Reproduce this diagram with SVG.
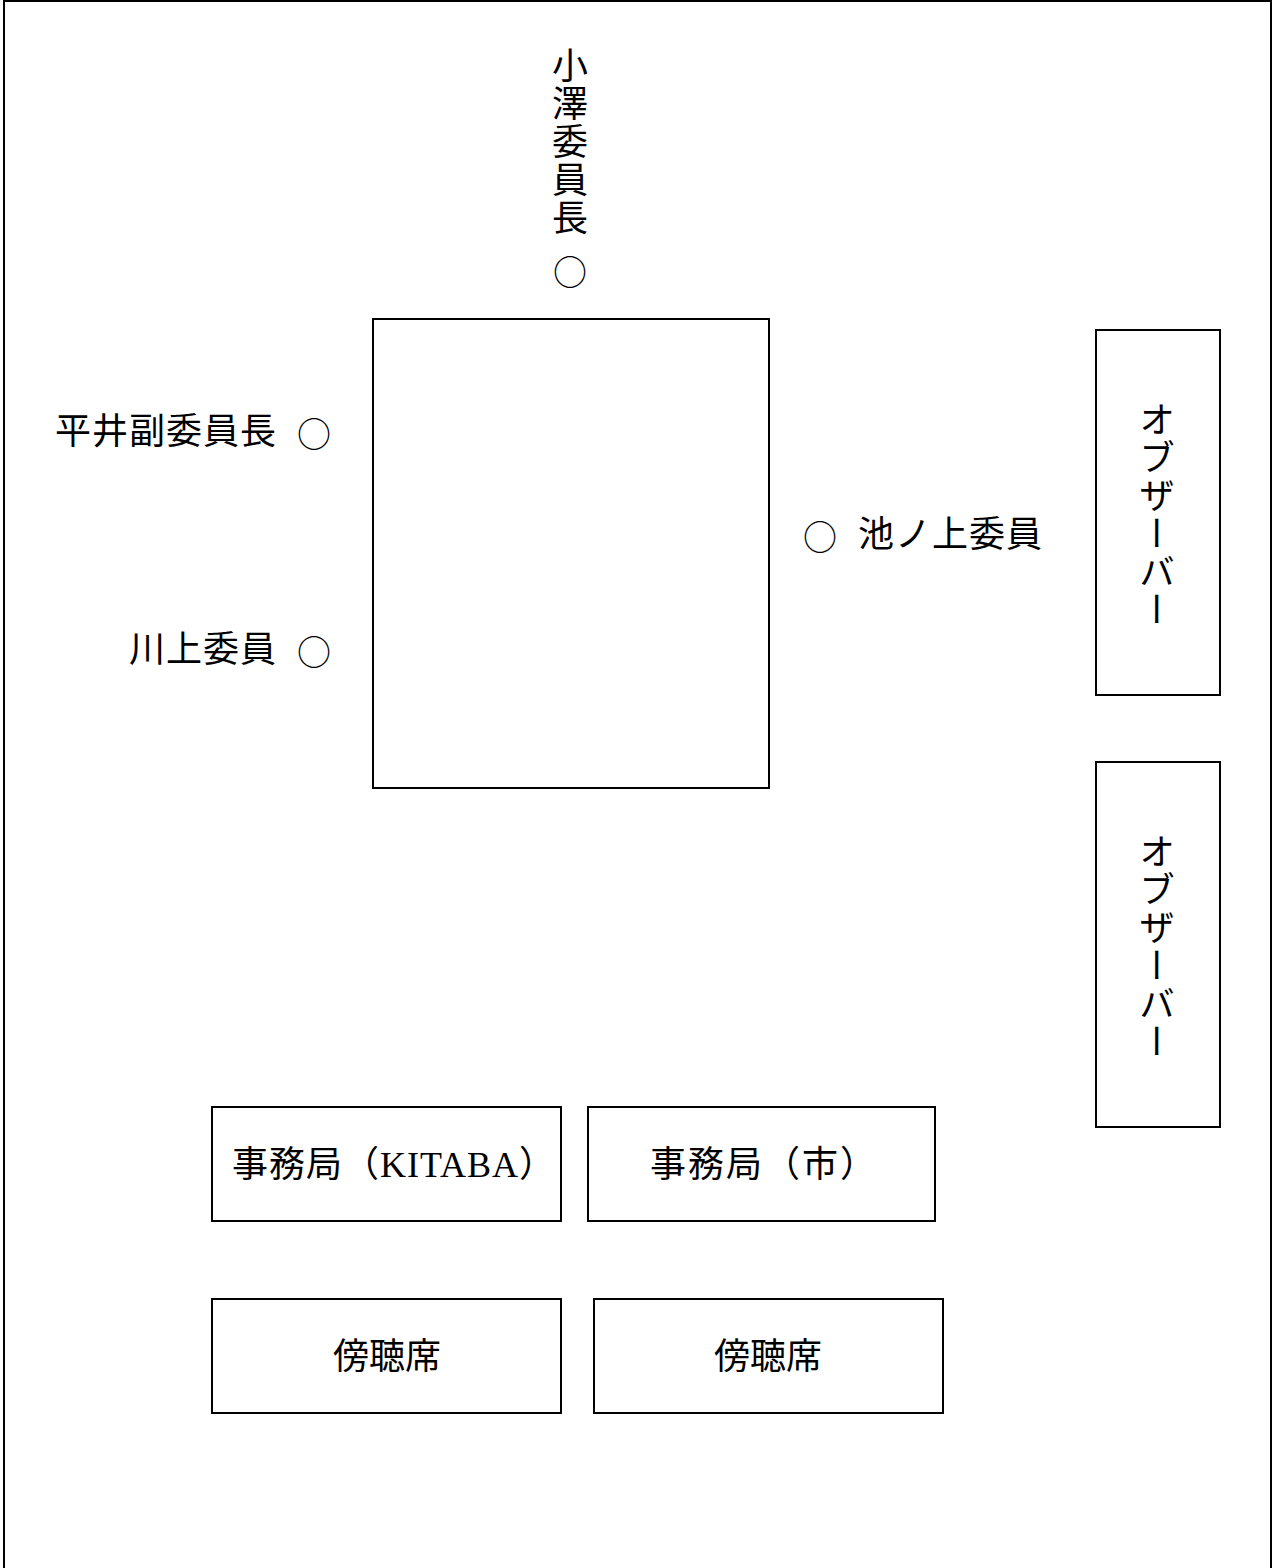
<svg xmlns="http://www.w3.org/2000/svg" width="1272" height="1568" viewBox="0 0 1272 1568">
<style>
.box{fill:#fff;stroke:#000;stroke-width:2}
.t{font-family:"Liberation Serif","Noto Sans CJK JP",serif;font-size:36px;fill:#000;dominant-baseline:central}
.v{font-family:"Noto Sans CJK JP","Liberation Serif",serif;font-size:36px;fill:#000;writing-mode:vertical-rl;text-anchor:middle;letter-spacing:2px}
.c{font-family:"Noto Sans CJK JP",sans-serif;font-size:34px;fill:#000;dominant-baseline:central;text-anchor:middle}
</style>
<rect width="1272" height="1568" fill="#fff"/>
<g id="room">
<path d="M4,1572 V1 H1271 V1572" fill="none" stroke="#000" stroke-width="2"/>
</g>
<g id="table">
<rect class="box" x="373" y="319" width="396" height="469"/>
</g>
<g id="chair-ozawa">
<text class="v" x="570" y="142">小澤委員長</text>
<text class="c" x="570" y="270">○</text>
</g>
<g id="vice-hirai">
<text class="t" x="277" y="432" text-anchor="end" letter-spacing="1">平井副委員長</text>
<text class="c" x="314" y="432">○</text>
</g>
<g id="member-kawakami">
<text class="t" x="277" y="650" text-anchor="end" letter-spacing="1">川上委員</text>
<text class="c" x="314" y="650">○</text>
</g>
<g id="member-ikenoue">
<text class="c" x="820" y="535">○</text>
<text class="t" x="858" y="535" letter-spacing="1">池ノ上委員</text>
</g>
<g id="observer-1">
<rect class="box" x="1096" y="330" width="124" height="365"/>
<text class="v" x="1157" y="515">オブザーバー</text>
</g>
<g id="observer-2">
<rect class="box" x="1096" y="762" width="124" height="365"/>
<text class="v" x="1157" y="947">オブザーバー</text>
</g>
<g id="secretariat-kitaba">
<rect class="box" x="212" y="1107" width="349" height="114"/>
<text class="t" x="394" y="1165" text-anchor="middle" letter-spacing="1">事務局（KITABA）</text>
</g>
<g id="secretariat-city">
<rect class="box" x="588" y="1107" width="347" height="114"/>
<text class="t" x="764" y="1165" text-anchor="middle" letter-spacing="2">事務局（市）</text>
</g>
<g id="gallery-1">
<rect class="box" x="212" y="1299" width="349" height="114"/>
<text class="t" x="387" y="1357" text-anchor="middle">傍聴席</text>
</g>
<g id="gallery-2">
<rect class="box" x="594" y="1299" width="349" height="114"/>
<text class="t" x="768" y="1357" text-anchor="middle">傍聴席</text>
</g>
<g id="connectors"></g>
</svg>
